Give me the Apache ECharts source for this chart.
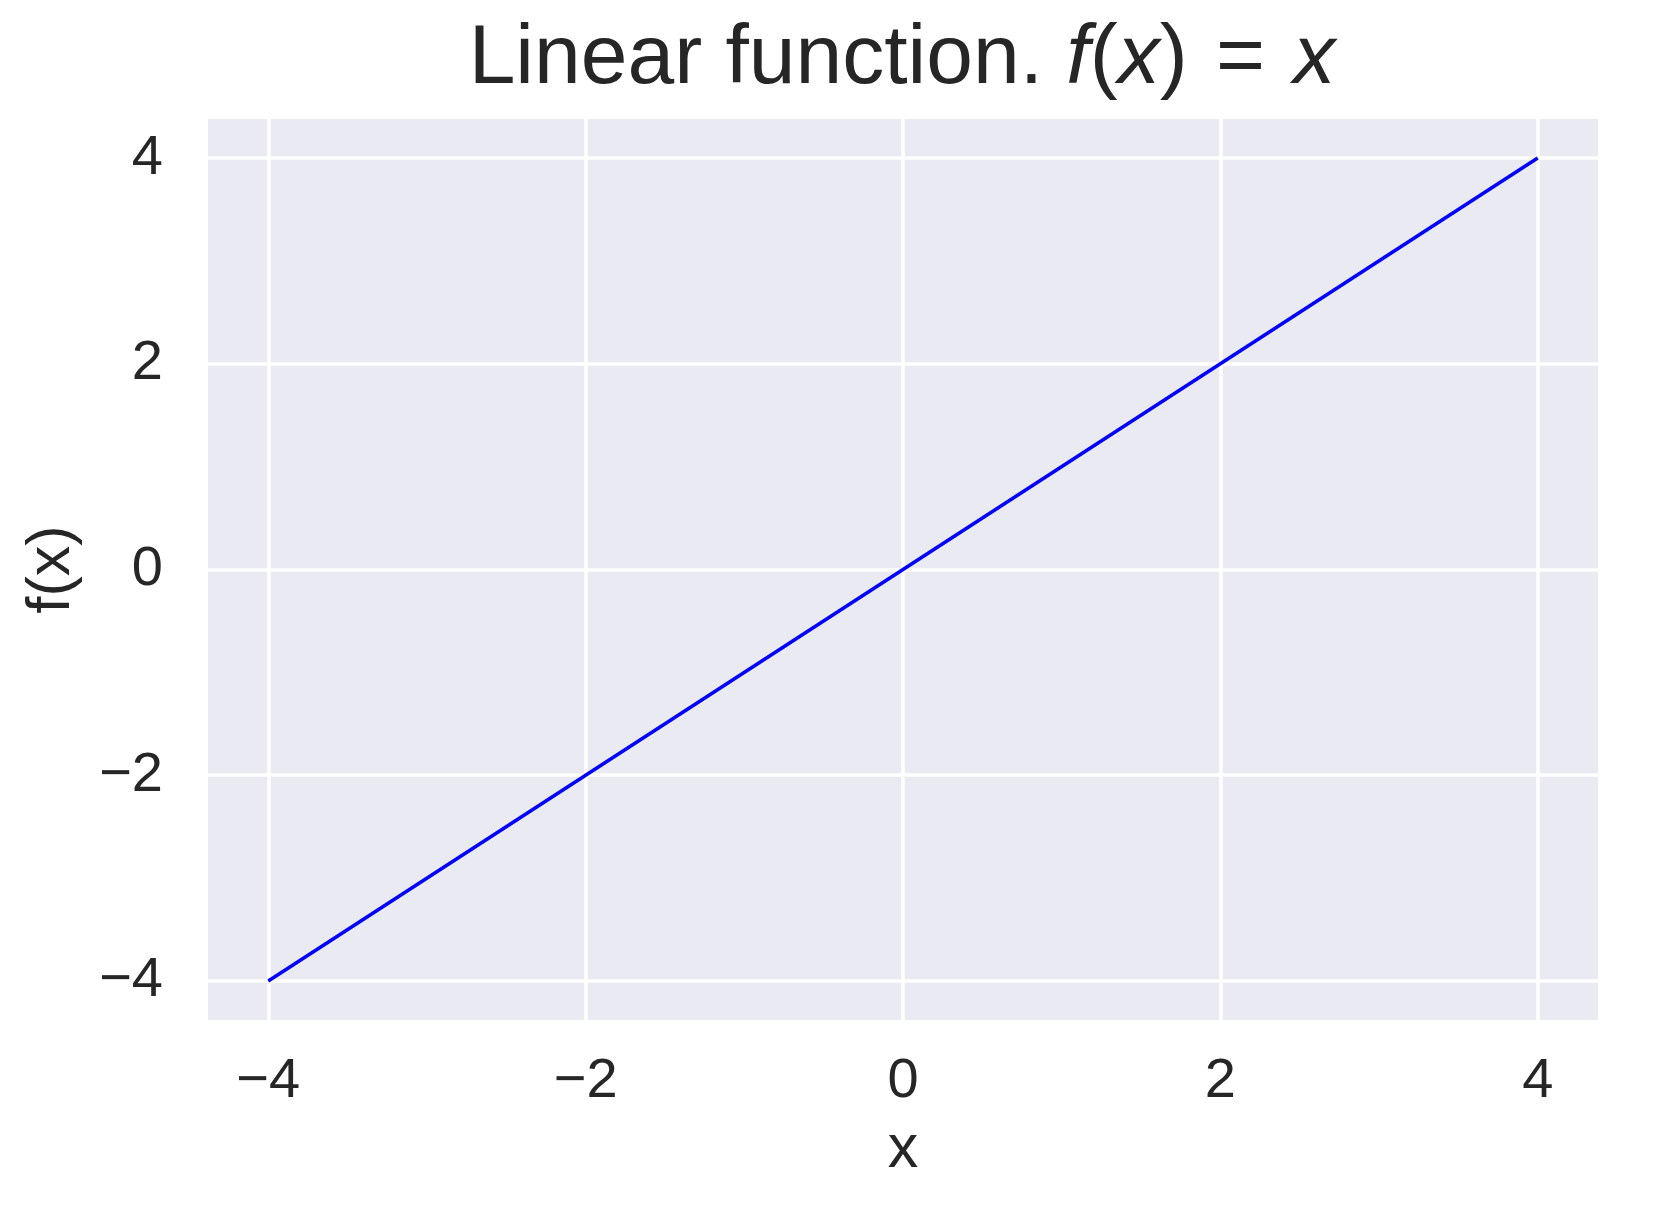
<!DOCTYPE html>
<html>
<head>
<meta charset="utf-8">
<script src="https://cdn.jsdelivr.net/npm/echarts@6/dist/echarts.min.js"></script>
<style>
html,body{margin:0;padding:0;background:#fff;}
#chart{width:1655px;height:1214px;}
</style>
</head>
<body>
<div id="chart"></div>
<script>
// Data
const xValues = [-4, -2, 0, 2, 4];
const yValues = [-4, -2, 0, 2, 4];
const xTicks = [-4, -2, 0, 2, 4];
const yTicks = [-4, -2, 0, 2, 4];
const titleText = 'Linear function. ';
const xName = 'x';
const yName = 'f(x)';

const seriesData = xValues.map((x, i) => [x, yValues[i]]);
const fmt = v => (v < 0 ? '\u2212' + Math.abs(v) : String(v));
const textColor = '#262626';
const font = 'Liberation Sans, Arial, sans-serif';

const chart = echarts.init(document.getElementById('chart'), null, {renderer: 'canvas'});
chart.setOption({
  backgroundColor: '#ffffff',
  animation: false,
  title: {
    text: '{n|' + titleText + '}{i|f}{n|(}{i|x}{n|) }{e|=}{n| }{i|x}',
    left: 902,
    textAlign: 'center',
    top: 18,
    padding: 0,
    textStyle: {
      rich: {
        n: {fontSize: 84, fontFamily: font, color: textColor, fontWeight: 'normal'},
        i: {fontSize: 84, fontFamily: font, color: textColor, fontStyle: 'italic', fontWeight: 'normal'},
        e: {fontSize: 84, fontFamily: font, color: textColor, fontWeight: 'normal', padding: [0, 5, 0, 5]}
      }
    }
  },
  grid: {
    left: 208, right: 57, top: 119, bottom: 194,
    show: true, backgroundColor: '#EAEAF2', borderWidth: 0
  },
  xAxis: {
    type: 'value',
    min: -4.38, max: 4.38,
    name: xName,
    nameLocation: 'middle',
    nameGap: 100,
    nameTextStyle: {fontSize: 61, fontFamily: font, color: textColor},
    axisLine: {show: false},
    axisTick: {show: false, customValues: xTicks},
    axisLabel: {customValues: xTicks, formatter: fmt, fontSize: 56, fontFamily: font, color: textColor, margin: 34},
    splitLine: {show: true, lineStyle: {color: '#ffffff', width: 3.5}}
  },
  yAxis: {
    type: 'value',
    min: -4.38, max: 4.38,
    name: yName,
    nameLocation: 'middle',
    nameGap: 125,
    nameTextStyle: {fontSize: 61, fontFamily: font, color: textColor},
    axisLine: {show: false},
    axisTick: {show: false, customValues: yTicks},
    axisLabel: {customValues: yTicks, formatter: fmt, fontSize: 56, fontFamily: font, color: textColor, margin: 45},
    splitLine: {show: true, lineStyle: {color: '#ffffff', width: 3.5}}
  },
  series: [{
    type: 'line',
    data: seriesData,
    showSymbol: false,
    symbol: 'none',
    lineStyle: {color: '#0000FF', width: 3.5},
    itemStyle: {color: '#0000FF'}
  }]
});
</script>
</body>
</html>
